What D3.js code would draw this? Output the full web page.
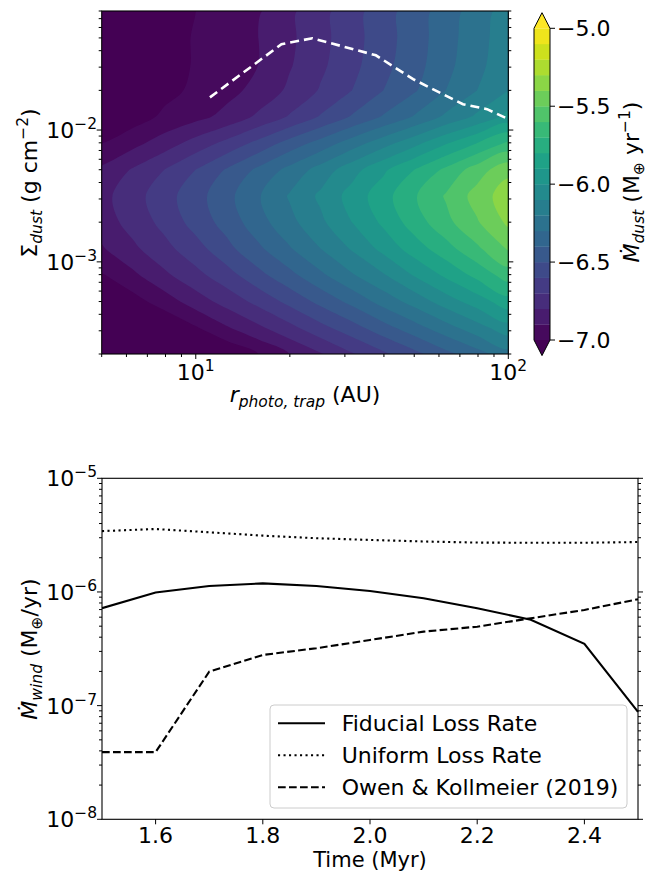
<!DOCTYPE html>
<html><head><meta charset="utf-8">
<script src="https://cdn.jsdelivr.net/npm/d3@7/dist/d3.min.js"></script>
<style>body{margin:0;background:#fff} text{white-space:pre}</style>
</head><body>
<script>
// ---------------- DATA ----------------
// top panel: log10 grid of the contour field
const radiusLog = [0.7,0.8,0.9,1.0,1.1,1.2,1.3,1.4,1.5,1.6,1.7,1.8,1.9,2.0];      // log10 r (AU), columns
const sigmaLog  = [-1.1,-1.3,-1.5,-1.7,-1.9,-2.1,-2.3,-2.5,-2.7,-2.9,-3.1,-3.3,-3.5,-3.7]; // log10 Σ, rows (top→bottom)
const mdotGrid = [ // log10 Mdot_dust (M_earth / yr)
  [-7.15,-7.11,-7.05,-7.00,-6.95,-6.91,-6.82,-6.73,-6.64,-6.54,-6.45,-6.35,-6.25,-6.15],
  [-7.14,-7.10,-7.05,-6.99,-6.95,-6.90,-6.82,-6.73,-6.64,-6.54,-6.45,-6.34,-6.24,-6.14],
  [-7.14,-7.10,-7.05,-6.99,-6.95,-6.90,-6.81,-6.72,-6.63,-6.53,-6.44,-6.33,-6.23,-6.13],
  [-7.14,-7.09,-7.03,-6.98,-6.93,-6.87,-6.78,-6.69,-6.60,-6.50,-6.41,-6.30,-6.20,-6.10],
  [-7.11,-7.05,-6.98,-6.93,-6.87,-6.78,-6.69,-6.59,-6.49,-6.39,-6.29,-6.18,-6.08,-5.97],
  [-7.00,-6.93,-6.85,-6.76,-6.67,-6.57,-6.46,-6.36,-6.25,-6.14,-6.03,-5.91,-5.80,-5.68],
  [-6.88,-6.79,-6.70,-6.60,-6.49,-6.38,-6.27,-6.16,-6.04,-5.92,-5.80,-5.68,-5.55,-5.43],
  [-6.83,-6.74,-6.64,-6.54,-6.43,-6.31,-6.19,-6.08,-5.96,-5.84,-5.71,-5.59,-5.46,-5.34],
  [-6.85,-6.76,-6.67,-6.56,-6.46,-6.34,-6.23,-6.12,-6.00,-5.88,-5.75,-5.63,-5.51,-5.38],
  [-6.91,-6.82,-6.73,-6.64,-6.53,-6.42,-6.31,-6.20,-6.09,-5.97,-5.85,-5.74,-5.62,-5.49],
  [-7.01,-6.92,-6.82,-6.73,-6.64,-6.53,-6.43,-6.32,-6.21,-6.11,-5.99,-5.88,-5.77,-5.65],
  [-7.14,-7.04,-6.95,-6.85,-6.76,-6.67,-6.57,-6.47,-6.37,-6.26,-6.16,-6.05,-5.95,-5.84],
  [-7.29,-7.20,-7.10,-7.01,-6.91,-6.82,-6.73,-6.63,-6.54,-6.44,-6.34,-6.24,-6.14,-6.04],
  [-7.47,-7.38,-7.28,-7.19,-7.09,-7.00,-6.90,-6.81,-6.71,-6.62,-6.53,-6.43,-6.34,-6.24]
];
const contourLevels = [-7.0,-6.9,-6.8,-6.7,-6.6,-6.5,-6.4,-6.3,-6.2,-6.1,-6.0,-5.9,-5.8,-5.7,-5.6,-5.5,-5.4,-5.3,-5.2,-5.1,-5.0];
const cbarTicks = [-7.0,-6.5,-6.0,-5.5,-5.0];
const cbarTickLabels = ["−7.0","−6.5","−6.0","−5.5","−5.0"];
// dashed trap curve
const trapR     = [11.1, 18.8, 23.6, 37.7, 49.6, 71.6, 85.5, 100];
const trapSigma = [0.0177, 0.0448, 0.0497, 0.0369, 0.0243, 0.0157, 0.0144, 0.0121];
// top axes ticks
const topXMajor = [10, 100];
const topXMajorLabels = [["10","1"],["10","2"]];
const topXMinor = [5,6,7,8,9,20,30,40,50,60,70,80,90];
const topYMajor = [1e-3, 1e-2];
const topYMajorLabels = [["10","−3"],["10","−2"]];
const topYMinor = [2e-4,3e-4,4e-4,5e-4,6e-4,7e-4,8e-4,9e-4,2e-3,3e-3,4e-3,5e-3,6e-3,7e-3,8e-3,9e-3,2e-2,3e-2,4e-2,5e-2,6e-2,7e-2,8e-2];

// bottom panel
const timeMyr  = [1.5,1.6,1.7,1.8,1.9,2.0,2.1,2.2,2.3,2.4,2.5];
const fiducial = [7.2e-7,9.9e-7,1.13e-6,1.19e-6,1.13e-6,1.02e-6,8.8e-7,7.2e-7,5.7e-7,3.5e-7,8.8e-8];
const uniform  = [3.43e-6,3.58e-6,3.35e-6,3.13e-6,2.97e-6,2.87e-6,2.78e-6,2.72e-6,2.71e-6,2.71e-6,2.75e-6];
const owen     = [3.9e-8,3.9e-8,1.99e-7,2.79e-7,3.2e-7,3.78e-7,4.48e-7,4.95e-7,5.87e-7,6.95e-7,8.63e-7];
const legendLabels = ["Fiducial Loss Rate","Uniform Loss Rate","Owen & Kollmeier (2019)"];
const botXTicks = [1.6,1.8,2.0,2.2,2.4];
const botXTickLabels = ["1.6","1.8","2.0","2.2","2.4"];
const botYMajor = [1e-8,1e-7,1e-6,1e-5];
const botYMajorLabels = [["10","−8"],["10","−7"],["10","−6"],["10","−5"]];
const botYMinor = [2e-8,3e-8,4e-8,5e-8,6e-8,7e-8,8e-8,9e-8,2e-7,3e-7,4e-7,5e-7,6e-7,7e-7,8e-7,9e-7,2e-6,3e-6,4e-6,5e-6,6e-6,7e-6,8e-6,9e-6];

// ---------------- DRAW ----------------
const W = 652, H = 872, FS = 22;
const svg = d3.select("body").append("svg").attr("width", W).attr("height", H)
  .style("font-family", "'DejaVu Sans', sans-serif");

function powLabel(g, x, y, lab, anchor) {
  const t = g.append("text").attr("x", x).attr("y", y).attr("text-anchor", anchor).attr("font-size", FS);
  t.append("tspan").text(lab[0]);
  t.append("tspan").attr("dy", -9).attr("font-size", 15.5).text(lab[1]);
}
function richText(x, y, segs, rotate, fs) {
  const t = svg.append("text").attr("x", x).attr("y", y).attr("text-anchor", "middle").attr("font-size", fs || FS);
  if (rotate) t.attr("transform", `rotate(-90 ${x} ${y})`);
  let cur = 0;
  segs.forEach(s => {
    const off = s.sub ? 5 : s.sup ? -9 : 0;
    const ts = t.append("tspan").attr("dy", off - cur).text(s.t);
    cur = off;
    if (s.sub || s.sup) ts.attr("font-size", 15.5);
    if (s.it) ts.attr("font-style", "italic");
  });
}

// ===== Top panel =====
const T = {l: 101.7, r: 508.3, t: 11, b: 354};
const xT = d3.scaleLog().domain([5, 100]).range([T.l, T.r]);
const yT = d3.scaleLog().domain([2e-4, 8e-2]).range([T.b, T.t]);
const bandColor = i => i < 0 ? d3.interpolateViridis(0) : i >= 20 ? d3.interpolateViridis(1) : d3.interpolateViridis((i + 0.5) / 20);

svg.append("clipPath").attr("id", "clipT").append("rect")
  .attr("x", T.l).attr("y", T.t).attr("width", T.r - T.l).attr("height", T.b - T.t);
const gC = svg.append("g").attr("clip-path", "url(#clipT)");
gC.append("rect").attr("x", T.l).attr("y", T.t).attr("width", T.r - T.l).attr("height", T.b - T.t)
  .attr("fill", bandColor(-1));

const nx = radiusLog.length, ny = sigmaLog.length;
const dLr = radiusLog[1] - radiusLog[0], dLs = sigmaLog[1] - sigmaLog[0];
const toPx = ([cx, cy]) => [
  xT(Math.pow(10, radiusLog[0] + (cx - 0.5) * dLr)),
  yT(Math.pow(10, sigmaLog[0] + (cy - 0.5) * dLs))
];
const smoothRing = d3.line().curve(d3.curveCatmullRomClosed.alpha(0.5));
const conts = d3.contours().size([nx, ny]).thresholds(contourLevels)(mdotGrid.flat());
conts.forEach((c, i) => {
  let d = "";
  c.coordinates.forEach(poly => poly.forEach(ring => {
    const pts = ring.slice(0, -1).map(toPx);
    if (pts.length > 2) d += smoothRing(pts);
  }));
  if (d) gC.append("path").attr("d", d).attr("fill", bandColor(i));
});

// dashed trap line
gC.append("path")
  .attr("d", d3.line().x((d, i) => xT(trapR[i])).y((d, i) => yT(trapSigma[i]))(trapR))
  .attr("fill", "none").attr("stroke", "#fff").attr("stroke-width", 2.6).attr("stroke-dasharray", "9,5");

// frame
svg.append("rect").attr("x", T.l).attr("y", T.t).attr("width", T.r - T.l).attr("height", T.b - T.t)
  .attr("fill", "none").attr("stroke", "#000").attr("stroke-width", 1.1);

const gA = svg.append("g").attr("stroke", "#000").attr("stroke-width", 1);
topXMajor.forEach((v, i) => {
  gA.append("line").attr("x1", xT(v)).attr("x2", xT(v)).attr("y1", T.b).attr("y2", T.b + 5);
  powLabel(svg, xT(v), 380, topXMajorLabels[i], "middle");
});
topXMinor.forEach(v => gA.append("line").attr("x1", xT(v)).attr("x2", xT(v)).attr("y1", T.b).attr("y2", T.b + 3));
topYMajor.forEach((v, i) => {
  gA.append("line").attr("x1", T.l - 5).attr("x2", T.l).attr("y1", yT(v)).attr("y2", yT(v));
  gA.append("line").attr("x1", T.r).attr("x2", T.r + 5).attr("y1", yT(v)).attr("y2", yT(v));
  powLabel(svg, 97, yT(v) + 8, topYMajorLabels[i], "end");
});
topYMinor.forEach(v => {
  gA.append("line").attr("x1", T.l - 3).attr("x2", T.l).attr("y1", yT(v)).attr("y2", yT(v));
  gA.append("line").attr("x1", T.r).attr("x2", T.r + 3).attr("y1", yT(v)).attr("y2", yT(v));
});

richText(305, 402, [{t: "r", it: true}, {t: "photo, trap", it: true, sub: true}, {t: " (AU)"}], false);
richText(37, 183, [{t: "Σ"}, {t: "dust", it: true, sub: true}, {t: " (g cm"}, {t: "−2", sup: true}, {t: ")"}], true);

// colorbar
const CB = {x: 534, w: 16};
const yC = d3.scaleLinear().domain([-7, -5]).range([340, 28.3]);
const ext = 15.6;
for (let i = 0; i < 20; i++) {
  svg.append("rect").attr("x", CB.x).attr("y", yC(contourLevels[i + 1]))
    .attr("width", CB.w).attr("height", yC(contourLevels[i]) - yC(contourLevels[i + 1]) + 0.3)
    .attr("fill", bandColor(i));
}
svg.append("path").attr("d", `M${CB.x},${yC(-5)}L${CB.x + CB.w / 2},${yC(-5) - ext}L${CB.x + CB.w},${yC(-5)}Z`).attr("fill", bandColor(20));
svg.append("path").attr("d", `M${CB.x},${yC(-7)}L${CB.x + CB.w / 2},${yC(-7) + ext}L${CB.x + CB.w},${yC(-7)}Z`).attr("fill", bandColor(-1));
svg.append("path").attr("d", `M${CB.x},${yC(-5)}L${CB.x + CB.w / 2},${yC(-5) - ext}L${CB.x + CB.w},${yC(-5)}L${CB.x + CB.w},${yC(-7)}L${CB.x + CB.w / 2},${yC(-7) + ext}L${CB.x},${yC(-7)}Z`)
  .attr("fill", "none").attr("stroke", "#000").attr("stroke-width", 1);
cbarTicks.forEach((v, i) => {
  gA.append("line").attr("x1", CB.x + CB.w).attr("x2", CB.x + CB.w + 5).attr("y1", yC(v)).attr("y2", yC(v));
  svg.append("text").attr("x", 557).attr("y", yC(v) + 8).attr("font-size", FS).text(cbarTickLabels[i]);
});
richText(638.5, 182, [{t: "Ṁ", it: true}, {t: "dust", it: true, sub: true}, {t: " (M"}, {t: "⊕", sub: true}, {t: " yr"}, {t: "−1", sup: true}, {t: ")"}], true);

// ===== Bottom panel =====
const B = {l: 102, r: 638, t: 478.3, b: 819.3};
const xB = d3.scaleLinear().domain([1.5, 2.5]).range([B.l, B.r]);
const yB = d3.scaleLog().domain([1e-8, 1e-5]).range([B.b, B.t]);
svg.append("clipPath").attr("id", "clipB").append("rect")
  .attr("x", B.l).attr("y", B.t - 2).attr("width", B.r - B.l + 2).attr("height", B.b - B.t + 4);
const gL = svg.append("g").attr("clip-path", "url(#clipB)");
const series = [
  {v: fiducial, dash: null},
  {v: uniform, dash: "2.1,3.4"},
  {v: owen, dash: "7.7,3.3"}
];
series.forEach(s => {
  const p = gL.append("path")
    .attr("d", d3.line().x((d, i) => xB(timeMyr[i])).y(d => yB(d))(s.v))
    .attr("fill", "none").attr("stroke", "#000").attr("stroke-width", 2.1);
  if (s.dash) p.attr("stroke-dasharray", s.dash);
});
svg.append("rect").attr("x", B.l).attr("y", B.t).attr("width", B.r - B.l).attr("height", B.b - B.t)
  .attr("fill", "none").attr("stroke", "#000").attr("stroke-width", 1.1);

botXTicks.forEach((v, i) => {
  gA.append("line").attr("x1", xB(v)).attr("x2", xB(v)).attr("y1", B.b).attr("y2", B.b + 5);
  svg.append("text").attr("x", xB(v)).attr("y", 842.5).attr("text-anchor", "middle").attr("font-size", FS).text(botXTickLabels[i]);
});
botYMajor.forEach((v, i) => {
  gA.append("line").attr("x1", B.l - 5).attr("x2", B.l).attr("y1", yB(v)).attr("y2", yB(v));
  gA.append("line").attr("x1", B.r).attr("x2", B.r + 5).attr("y1", yB(v)).attr("y2", yB(v));
  powLabel(svg, 97, yB(v) + 8, botYMajorLabels[i], "end");
});
botYMinor.forEach(v => {
  gA.append("line").attr("x1", B.l - 3).attr("x2", B.l).attr("y1", yB(v)).attr("y2", yB(v));
  gA.append("line").attr("x1", B.r).attr("x2", B.r + 3).attr("y1", yB(v)).attr("y2", yB(v));
});
gA.raise();

richText(370, 867, [{t: "Time (Myr)"}], false, 21);
richText(37, 649, [{t: "Ṁ", it: true}, {t: "wind", it: true, sub: true}, {t: " (M"}, {t: "⊕", sub: true}, {t: "/yr)"}], true);

// legend
const LG = {x: 270, y: 705, w: 357, h: 103};
svg.append("rect").attr("x", LG.x).attr("y", LG.y).attr("width", LG.w).attr("height", LG.h).attr("rx", 4)
  .attr("fill", "#fff").attr("fill-opacity", 0.8).attr("stroke", "#cccccc").attr("stroke-width", 1);
legendLabels.forEach((lab, i) => {
  const yy = 723.3 + i * 32;
  const ln = svg.append("line").attr("x1", 278).attr("x2", 325).attr("y1", yy).attr("y2", yy)
    .attr("stroke", "#000").attr("stroke-width", 2.1);
  if (series[i].dash) ln.attr("stroke-dasharray", series[i].dash);
  svg.append("text").attr("x", 341.7).attr("y", yy + 8).attr("font-size", FS).text(lab);
});
</script>
</body></html>
